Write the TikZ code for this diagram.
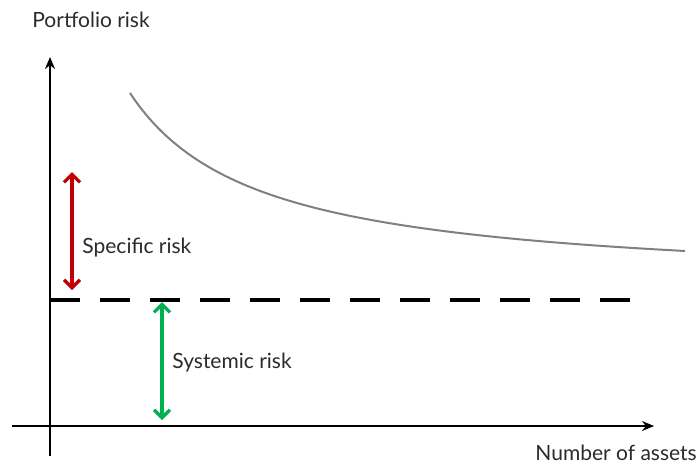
\documentclass[tikz,border=0pt]{standalone}
\usepackage{fontspec}
\setmainfont{Lato}
\usetikzlibrary{arrows.meta, positioning}
\definecolor{riskred}{HTML}{C00000}
\definecolor{riskgreen}{HTML}{00B050}
\definecolor{txtgray}{HTML}{2B2B2B}
\tikzset{
    axis/.style={line width=1.1pt, -{Stealth[length=6pt,width=5pt]}},
    band/.style={line width=1.6pt, {Straight Barb[length=4pt,width=8pt]}-{Straight Barb[length=4pt,width=8pt]}},
    txt/.style={text=txtgray, font=\fontsize{10.5}{12}\selectfont, inner sep=0pt},
}

\begin{document}
\begin{tikzpicture}[x=0.5pt,y=-0.5pt]
\useasboundingbox (0,0) rectangle (700,463);

\coordinate (ytop) at (50,57);
\coordinate (ybot) at (50,456);
\coordinate (xl) at (12,426);
\coordinate (xr) at (654,426);

\node[txt, anchor=west] (ylabel) at (32,20) {Portfolio risk};
\node[txt, anchor=west] (xlabel) at (535,453) {Number of assets};

% axes
\draw[axis] (ybot) -- (ytop);
\draw[axis] (xl) -- (xr);

% market level
\coordinate (m0) at (50,300);
\coordinate (m1) at (637,300);
\draw[line width=1.6pt, dash pattern=on 15 off 10] (m0) -- (m1);

% diversification curve
\draw[gray, line width=1pt] plot[domain=130:685, samples=90, smooth] (\x, {287.5 - 249.55/((\x-1.68)/100)});

% specific risk
\coordinate (r0) at (72,172);
\coordinate (r1) at (72,290);
\draw[band, riskred] (r0) -- (r1);
\node[txt, anchor=west] (spec) at (82,248) {Specific risk};

% systemic risk
\coordinate (g0) at (162,302);
\coordinate (g1) at (162,420);
\draw[band, riskgreen] (g0) -- (g1);
\node[txt, anchor=west] (syst) at (172,363) {Systemic risk};

\end{tikzpicture}
\end{document}
